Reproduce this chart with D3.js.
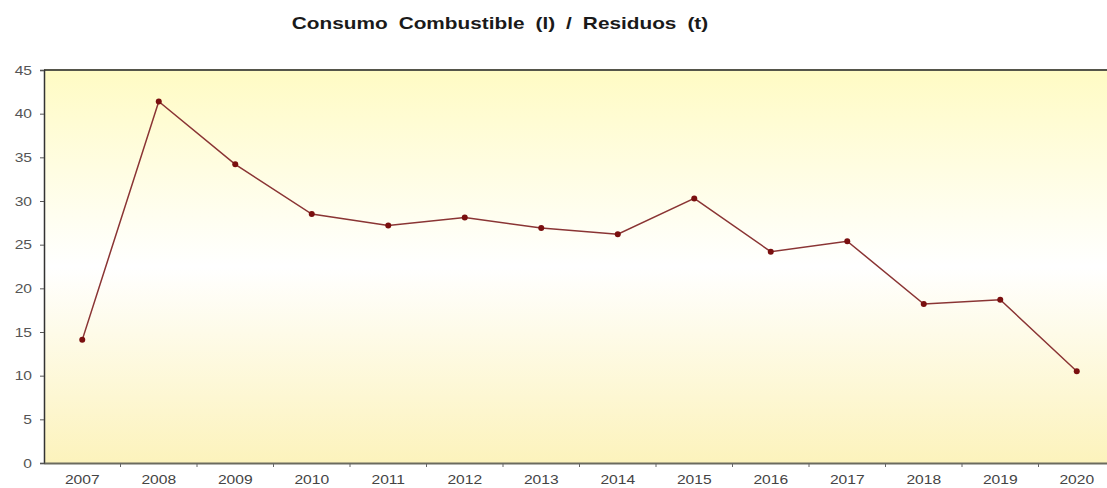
<!DOCTYPE html>
<html lang="es">
<head>
    <meta charset="UTF-8">
    <title>Consumo Combustible (l) / Residuos (t)</title>
    <script src="https://d3js.org/d3.v7.min.js"></script>
    <style>
        body {
            margin: 0;
            padding: 0;
            background: #ffffff;
            font-family: Arial, "Liberation Sans", sans-serif;
        }

        svg {
            display: block;
        }
    </style>
</head>
<body>
    <svg id="chart"></svg>

    <script>
        const years = ["2007", "2008", "2009", "2010", "2011", "2012", "2013",
            "2014", "2015", "2016", "2017", "2018", "2019", "2020"];
        const ratio = [14.1, 41.4, 34.2, 28.5, 27.2, 28.1, 26.9,
            26.2, 30.3, 24.2, 25.4, 18.2, 18.7, 10.5];
        const yTicks = [0, 5, 10, 15, 20, 25, 30, 35, 40, 45];

        const width = 1107;
        const height = 488;
        const margin = { top: 70, right: -8, bottom: 25, left: 44 };
        const stretch = 1.25; // the original picture is a bit wider than tall

        const svg = d3.select("#chart")
            .attr("width", width)
            .attr("height", height);

        const x = d3.scaleBand()
            .domain(years)
            .range([margin.left, width - margin.right]);

        const y = d3.scaleLinear()
            .domain([0, 45])
            .range([height - margin.bottom, margin.top]);

        // plot area gradient: yellow at the edges, white in the middle
        const grad = svg.append("defs").append("linearGradient")
            .attr("id", "bg")
            .attr("x1", 0).attr("y1", 0).attr("x2", 0).attr("y2", 1);
        grad.append("stop").attr("offset", "0%").attr("stop-color", "#fffbc4");
        grad.append("stop").attr("offset", "50%").attr("stop-color", "#ffffff");
        grad.append("stop").attr("offset", "100%").attr("stop-color", "#fcf3bc");

        svg.append("rect")
            .attr("x", margin.left)
            .attr("y", y(45))
            .attr("width", x.range()[1] - margin.left)
            .attr("height", y(0) - y(45))
            .attr("fill", "url(#bg)");

        // top border
        svg.append("line")
            .attr("x1", margin.left).attr("x2", width)
            .attr("y1", y(45)).attr("y2", y(45))
            .attr("stroke", "#55554a")
            .attr("stroke-width", 2);

        // y axis
        const yAxis = svg.append("g")
            .attr("transform", `translate(${margin.left},0)`)
            .call(d3.axisLeft(y).tickValues(yTicks).tickSize(4).tickPadding(0));
        yAxis.select(".domain").attr("stroke", "#333").attr("stroke-width", 1.5);
        yAxis.selectAll(".tick line").attr("stroke", "#555");
        yAxis.selectAll("text")
            .attr("x", -12 / stretch)
            .attr("transform", `scale(${stretch},1)`)
            .attr("fill", "#555")
            .style("font-size", "12.5px")
            .style("font-family", "Arial, 'Liberation Sans', sans-serif");

        // x axis, ticks between the categories
        const xAxis = svg.append("g")
            .attr("transform", `translate(0,${y(0)})`)
            .call(d3.axisBottom(x).tickSize(0).tickPadding(12));
        xAxis.select(".domain").attr("stroke", "#6b6b5e").attr("stroke-width", 2);
        xAxis.selectAll("text")
            .attr("transform", `scale(${stretch},1)`)
            .attr("fill", "#444")
            .style("font-size", "12.5px")
            .style("font-family", "Arial, 'Liberation Sans', sans-serif");

        svg.append("g")
            .selectAll("line")
            .data(years.slice(1))
            .join("line")
            .attr("x1", d => x(d)).attr("x2", d => x(d))
            .attr("y1", y(0)).attr("y2", y(0) + 4)
            .attr("stroke", "#666");

        // line
        const line = d3.line()
            .x((d, i) => x(years[i]) + x.bandwidth() / 2)
            .y(d => y(d));

        svg.append("path")
            .datum(ratio)
            .attr("d", line)
            .attr("fill", "none")
            .attr("stroke", "#8a3434")
            .attr("stroke-width", 1.5);

        svg.append("g")
            .selectAll("circle")
            .data(ratio)
            .join("circle")
            .attr("cx", (d, i) => x(years[i]) + x.bandwidth() / 2)
            .attr("cy", d => y(d))
            .attr("r", 3)
            .attr("fill", "#7a0f0f");

        // title
        svg.append("text")
            .attr("transform", `translate(500,29) scale(1.3,1)`)
            .attr("text-anchor", "middle")
            .style("font-size", "16px")
            .style("font-weight", "bold")
            .style("word-spacing", "4px")
            .attr("fill", "#1a1a1a")
            .text("Consumo Combustible (l) / Residuos (t)");
    </script>
</body>
</html>
